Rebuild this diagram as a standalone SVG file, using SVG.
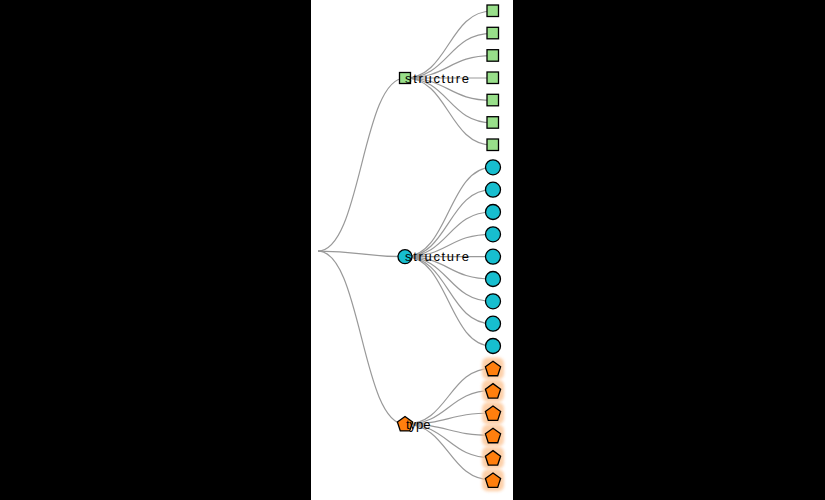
<svg xmlns="http://www.w3.org/2000/svg" width="825" height="500" viewBox="0 0 825 500">
<defs>
<style>
.link{fill:none;stroke:#999;stroke-width:1.2}
.sq{fill:#98df8a;stroke:#000;stroke-width:1.3}
.ci{fill:#17becf;stroke:#000;stroke-width:1.3}
.pe{fill:#ff7f0e;stroke:#000;stroke-width:1.3}
.halo{fill:#fdc594;opacity:0.8;filter:url(#blur)}
.lbl{font-family:"Liberation Sans",Arial,sans-serif;font-size:13px;fill:#000}
</style>
<filter id="blur" x="-50%" y="-50%" width="200%" height="200%"><feGaussianBlur stdDeviation="1.5"/></filter>
<path id="pent" d="M0,-8 L7.61,-2.47 L4.70,6.47 L-4.70,6.47 L-7.61,-2.47 Z"/>
</defs>
<rect x="0" y="0" width="825" height="500" fill="#000"/>
<rect x="311" y="0" width="202" height="500" fill="#fff"/>
<g id="connectors">
<path class="link" d="M318,251.1 C361.5,251.1 361.5,78 405,78"/>
<path class="link" d="M318,251.1 C361.5,251.1 361.5,256.7 405,256.7"/>
<path class="link" d="M318,251.1 C361.5,251.1 361.5,424.2 405,424.2"/>
<path class="link" d="M405,78 C448.5,78 448.5,11 492,11"/>
<path class="link" d="M405,78 C448.5,78 448.5,33.3 492,33.3"/>
<path class="link" d="M405,78 C448.5,78 448.5,55.7 492,55.7"/>
<path class="link" d="M405,78 C448.5,78 448.5,78 492,78"/>
<path class="link" d="M405,78 C448.5,78 448.5,100.3 492,100.3"/>
<path class="link" d="M405,78 C448.5,78 448.5,122.7 492,122.7"/>
<path class="link" d="M405,78 C448.5,78 448.5,145 492,145"/>
<path class="link" d="M405,256.7 C448.5,256.7 448.5,167.3 492,167.3"/>
<path class="link" d="M405,256.7 C448.5,256.7 448.5,189.7 492,189.7"/>
<path class="link" d="M405,256.7 C448.5,256.7 448.5,212 492,212"/>
<path class="link" d="M405,256.7 C448.5,256.7 448.5,234.3 492,234.3"/>
<path class="link" d="M405,256.7 C448.5,256.7 448.5,256.7 492,256.7"/>
<path class="link" d="M405,256.7 C448.5,256.7 448.5,279 492,279"/>
<path class="link" d="M405,256.7 C448.5,256.7 448.5,301.3 492,301.3"/>
<path class="link" d="M405,256.7 C448.5,256.7 448.5,323.7 492,323.7"/>
<path class="link" d="M405,256.7 C448.5,256.7 448.5,346 492,346"/>
<path class="link" d="M405,424.2 C448.5,424.2 448.5,368.3 492,368.3"/>
<path class="link" d="M405,424.2 C448.5,424.2 448.5,390.7 492,390.7"/>
<path class="link" d="M405,424.2 C448.5,424.2 448.5,413 492,413"/>
<path class="link" d="M405,424.2 C448.5,424.2 448.5,435.3 492,435.3"/>
<path class="link" d="M405,424.2 C448.5,424.2 448.5,457.7 492,457.7"/>
<path class="link" d="M405,424.2 C448.5,424.2 448.5,480 492,480"/>
</g>
<g id="node-structure-1">
<rect class="sq" x="399.5" y="72.5" width="11" height="11"/>
<text class="lbl" x="405" y="82.5" textLength="64">structure</text>
</g>
<g id="node-structure-2">
<circle class="ci" cx="405" cy="256.7" r="7"/>
<text class="lbl" x="405" y="261.2" textLength="64">structure</text>
</g>
<g id="node-type">
<use href="#pent" class="pe" x="405" y="424.5"/>
<text class="lbl" x="406" y="428.7">type</text>
</g>
<g id="leaves-green">
<rect class="sq" x="487" y="5" width="11.5" height="11.5"/>
<rect class="sq" x="487" y="27.3" width="11.5" height="11.5"/>
<rect class="sq" x="487" y="49.7" width="11.5" height="11.5"/>
<rect class="sq" x="487" y="72" width="11.5" height="11.5"/>
<rect class="sq" x="487" y="94.3" width="11.5" height="11.5"/>
<rect class="sq" x="487" y="116.7" width="11.5" height="11.5"/>
<rect class="sq" x="487" y="139" width="11.5" height="11.5"/>
</g>
<g id="leaves-cyan">
<circle class="ci" cx="493" cy="167.3" r="7.5"/>
<circle class="ci" cx="493" cy="189.7" r="7.5"/>
<circle class="ci" cx="493" cy="212" r="7.5"/>
<circle class="ci" cx="493" cy="234.3" r="7.5"/>
<circle class="ci" cx="493" cy="256.7" r="7.5"/>
<circle class="ci" cx="493" cy="279" r="7.5"/>
<circle class="ci" cx="493" cy="301.3" r="7.5"/>
<circle class="ci" cx="493" cy="323.7" r="7.5"/>
<circle class="ci" cx="493" cy="346" r="7.5"/>
</g>
<g id="leaves-orange">
<rect class="halo" x="482" y="357.5" width="22" height="22" rx="6"/>
<rect class="halo" x="482" y="379.8" width="22" height="22" rx="6"/>
<rect class="halo" x="482" y="402.2" width="22" height="22" rx="6"/>
<rect class="halo" x="482" y="424.5" width="22" height="22" rx="6"/>
<rect class="halo" x="482" y="446.8" width="22" height="22" rx="6"/>
<rect class="halo" x="482" y="469.2" width="22" height="22" rx="6"/>
<use href="#pent" class="pe" x="493" y="369.3"/>
<use href="#pent" class="pe" x="493" y="391.6"/>
<use href="#pent" class="pe" x="493" y="414"/>
<use href="#pent" class="pe" x="493" y="436.3"/>
<use href="#pent" class="pe" x="493" y="458.6"/>
<use href="#pent" class="pe" x="493" y="481"/>
</g>
</svg>
